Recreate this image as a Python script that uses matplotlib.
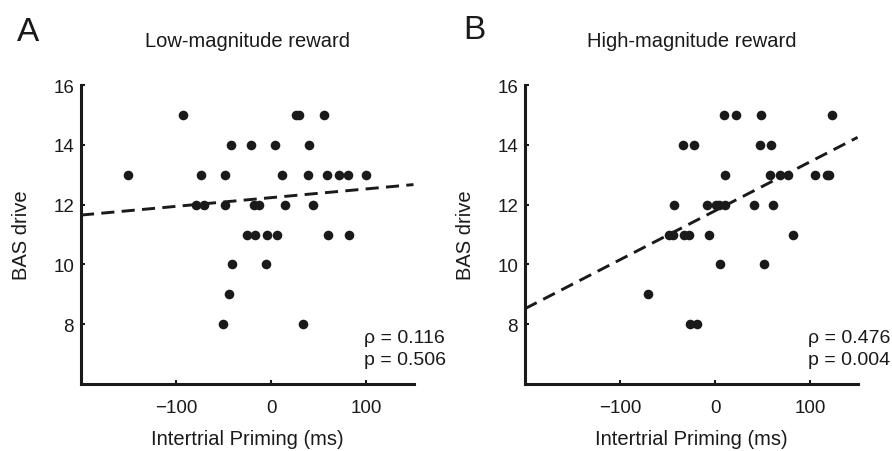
import numpy as np
import matplotlib
matplotlib.use("Agg")
import matplotlib.pyplot as plt

plt.rcParams['font.family'] = ['Liberation Sans', 'DejaVu Sans']

# panel A: low-magnitude reward
low_x = [-151, -93, -74, -79, -71, -48, -48, -42, -41, -44, -51,
         -25, -17, -21, -18, -13, -4, -5, 4, 6, 12, 15, 26, 29,
         40, 39, 44, 34, 56, 59, 60, 72, 81, 82, 100]
low_y = [13, 15, 13, 12, 12, 13, 12, 14, 10, 9, 8,
         11, 11, 14, 12, 12, 11, 10, 14, 11, 13, 12, 15, 15,
         14, 13, 12, 8, 15, 13, 11, 13, 13, 11, 13]
low_fit_x = [-200, 150]
low_fit_y = [11.65, 12.67]

# panel B: high-magnitude reward
high_x = [-71, -48, -44, -43, -34, -22, -33, -27, -26, -19,
          -8, -6, 1, 4, 5, 9, 10, 10, 22, 41, 48, 47, 51,
          59, 58, 68, 77, 61, 82, 105, 118, 120, 123]
high_y = [9, 11, 11, 12, 14, 14, 11, 11, 8, 8,
          12, 11, 12, 12, 10, 15, 13, 12, 15, 12, 15, 14, 10,
          14, 13, 13, 13, 12, 11, 13, 13, 13, 15]
high_fit_x = [-200, 150]
high_fit_y = [8.52, 14.25]

titles = ["Low-magnitude reward", "High-magnitude reward"]
letters = ["A", "B"]
stats = ["\u03c1 = 0.116\np = 0.506", "\u03c1 = 0.476\np = 0.004"]

fig = plt.figure(figsize=(8.92, 4.52), dpi=100)
ax1 = fig.add_axes([0.0908, 0.1482, 0.3728, 0.6615])
ax2 = fig.add_axes([0.5886, 0.1482, 0.3728, 0.6615])

panels = [(ax1, low_x, low_y, low_fit_x, low_fit_y),
          (ax2, high_x, high_y, high_fit_x, high_fit_y)]

for i, (ax, x, y, fx, fy) in enumerate(panels):
    ax.scatter(x, y, s=48, color='#1a1a1a', linewidths=0, zorder=3)
    ax.plot(fx, fy, color='#1a1a1a', lw=2.1, linestyle=(0, (4.5, 2.5)), zorder=2)
    ax.set_xlim(-200, 150)
    ax.set_ylim(6, 16)
    ax.set_xticks([-100, 0, 100])
    ax.set_xticklabels(['\u2212100', '0', '100'])
    ax.set_yticks([8, 10, 12, 14, 16])
    for s in ['top', 'right']:
        ax.spines[s].set_visible(False)
    for s in ['left', 'bottom']:
        ax.spines[s].set_linewidth(2.2)
        ax.spines[s].set_color('#1a1a1a')
    ax.tick_params(direction='in', length=3, width=1.5, labelsize=13.5,
                   colors='#1a1a1a')
    ax.tick_params(axis='x', pad=11)
    ax.tick_params(axis='y', pad=5)
    ax.set_xlabel("Intertrial Priming (ms)", fontsize=14.5, labelpad=9,
                  color='#1a1a1a')
    ax.set_ylabel("BAS drive", fontsize=14.5, color='#1a1a1a')
    ax.yaxis.set_label_coords(-0.15, 0.5)
    ax.set_title(titles[i], fontsize=14.5, pad=28, color='#1a1a1a')
    ax.text(0.85, 0.067, stats[i], transform=ax.transAxes, fontsize=14,
            ha='left', va='baseline', linespacing=1.35, color='#1a1a1a')

fig.text(17 / 892, 1 - 41 / 452, letters[0], fontsize=24, va='baseline',
         color='#1a1a1a')
fig.text(463 / 892, 1 - 39 / 452, letters[1], fontsize=24, va='baseline',
         color='#1a1a1a')

fig.savefig("out.png", dpi=100)
